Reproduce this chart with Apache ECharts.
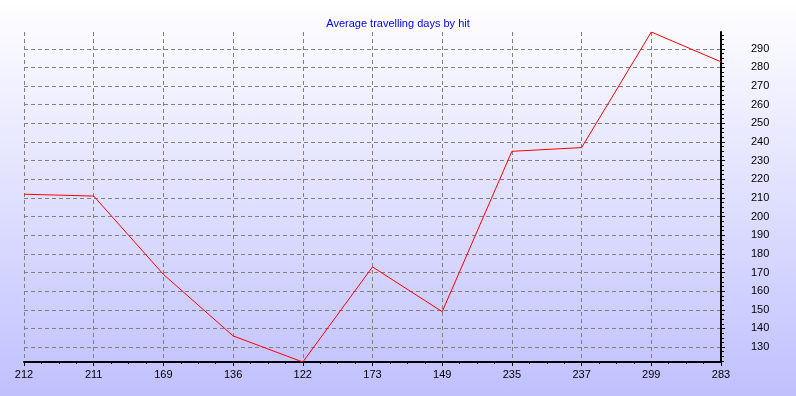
<!DOCTYPE html>
<html>
<head>
<meta charset="utf-8">
<script src="https://cdn.jsdelivr.net/npm/echarts@6/dist/echarts.min.js"></script>
<style>
html,body{margin:0;padding:0;}
#c{width:796px;height:396px;background:linear-gradient(to bottom,#ffffff 0%,#c0c0ff 100%);}
</style>
</head>
<body>
<div id="c"></div>
<script>
var titleText = 'Average travelling days by hit';
var categories = ['212','211','169','136','122','173','149','235','237','299','283'];
var values = [212,211,169,136,122,173,149,235,237,299,283];
var yTickLabels = [130,140,150,160,170,180,190,200,210,220,230,240,250,260,270,280,290];
var yMin = 122, yMax = 299;

var yMinor = [];
for (var v = 122.5; v < yMax; v += 2.5) yMinor.push(v);

var chart = echarts.init(document.getElementById('c'), null, {renderer:'canvas'});
var font = 'Liberation Sans, Arial, sans-serif';
chart.setOption({
  backgroundColor: 'transparent',
  animation: false,
  title: {
    text: titleText, left: 'center', top: 13,
    textStyle: {color:'#0000ff', fontSize:11, fontWeight:'normal', fontFamily:font}
  },
  grid: {left:24, right:75, top:32, bottom:34, containLabel:false},
  xAxis: [{
    type:'category', data: categories, boundaryGap:false,
    axisLine:{show:true, onZero:false, lineStyle:{color:'#000', width:2}},
    axisTick:{show:true, length:4, lineStyle:{color:'#000'}},
    axisLabel:{color:'#000', fontSize:11, fontFamily:font, margin:7},
    splitLine:{show:true, lineStyle:{color:'#808080', type:[4,3], width:1}}
  },{
    type:'value', min:0, max:10, interval:0.25, position:'bottom',
    axisLine:{show:false, onZero:false}, axisLabel:{show:false}, splitLine:{show:false},
    axisTick:{show:true, length:2, lineStyle:{color:'#000'}}
  }],
  yAxis: [{
    type:'value', position:'right', min:yMin, max:yMax,
    axisLine:{show:true, onZero:false, lineStyle:{color:'#000', width:2}},
    axisTick:{show:true, length:4, customValues:yTickLabels, lineStyle:{color:'#000'}},
    axisLabel:{show:true, customValues:yTickLabels, color:'#000', fontSize:11, fontFamily:font, margin:30},
    splitLine:{show:true, customValues:yTickLabels, lineStyle:{color:'#808080', type:[4,3], width:1}}
  },{
    type:'value', position:'right', min:yMin, max:yMax,
    axisLine:{show:false, onZero:false}, axisLabel:{show:false}, splitLine:{show:false},
    axisTick:{show:true, length:3, customValues:yMinor, lineStyle:{color:'#000'}}
  }],
  series: [{
    type:'line', data: values, xAxisIndex:0, yAxisIndex:0,
    showSymbol:false, symbol:'none',
    lineStyle:{color:'#ff0000', width:1}
  }]
});
</script>
</body>
</html>
